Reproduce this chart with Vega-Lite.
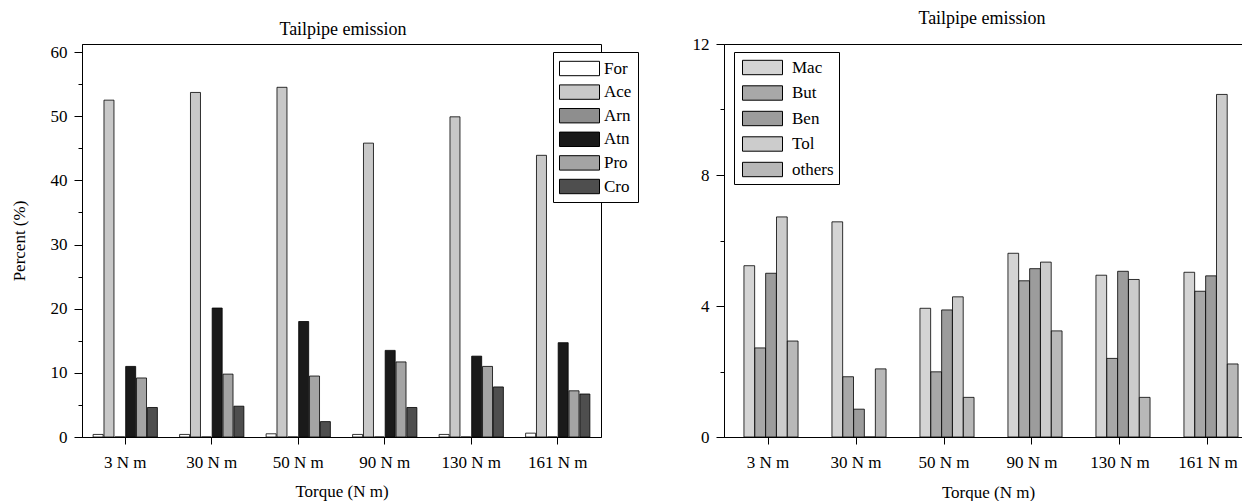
{
  "$schema": "https://vega.github.io/schema/vega-lite/v6.json",
  "padding": {"left": 9, "top": 9, "right": 0, "bottom": 0},
  "background": "white",
  "spacing": 52,
  "config": {
    "font": "Liberation Serif",
    "view": {"stroke": "black", "strokeWidth": 1},
    "scale": {"offsetBandPaddingInner": 0, "offsetBandPaddingOuter": 0},
    "axis": {
      "labelFont": "Liberation Serif",
      "titleFont": "Liberation Serif",
      "labelFontSize": 17,
      "titleFontSize": 17,
      "titleFontWeight": "normal",
      "labelColor": "black",
      "titleColor": "black",
      "domainColor": "black",
      "tickColor": "black",
      "grid": false
    },
    "legend": {
      "labelFont": "Liberation Serif",
      "labelFontSize": 17,
      "labelColor": "black",
      "strokeColor": "black",
      "fillColor": "white",
      "symbolStrokeColor": "black",
      "symbolStrokeWidth": 1,
      "symbolOpacity": 1,
      "symbolType": "M-2,-0.72H2V0.72H-2Z",
      "symbolSize": 400
    },
    "title": {"font": "Liberation Serif", "fontSize": 18, "fontWeight": "normal", "color": "black", "anchor": "middle"}
  },
  "datasets": {
    "left": [
      {"t": "3 N m", "s": "For", "v": 0.4}, {"t": "3 N m", "s": "Ace", "v": 52.5}, {"t": "3 N m", "s": "Arn", "v": 0}, {"t": "3 N m", "s": "Atn", "v": 11.0}, {"t": "3 N m", "s": "Pro", "v": 9.2}, {"t": "3 N m", "s": "Cro", "v": 4.6},
      {"t": "30 N m", "s": "For", "v": 0.4}, {"t": "30 N m", "s": "Ace", "v": 53.7}, {"t": "30 N m", "s": "Arn", "v": 0}, {"t": "30 N m", "s": "Atn", "v": 20.1}, {"t": "30 N m", "s": "Pro", "v": 9.8}, {"t": "30 N m", "s": "Cro", "v": 4.8},
      {"t": "50 N m", "s": "For", "v": 0.5}, {"t": "50 N m", "s": "Ace", "v": 54.5}, {"t": "50 N m", "s": "Arn", "v": 0}, {"t": "50 N m", "s": "Atn", "v": 18.0}, {"t": "50 N m", "s": "Pro", "v": 9.5}, {"t": "50 N m", "s": "Cro", "v": 2.4},
      {"t": "90 N m", "s": "For", "v": 0.4}, {"t": "90 N m", "s": "Ace", "v": 45.8}, {"t": "90 N m", "s": "Arn", "v": 0}, {"t": "90 N m", "s": "Atn", "v": 13.5}, {"t": "90 N m", "s": "Pro", "v": 11.7}, {"t": "90 N m", "s": "Cro", "v": 4.6},
      {"t": "130 N m", "s": "For", "v": 0.4}, {"t": "130 N m", "s": "Ace", "v": 49.9}, {"t": "130 N m", "s": "Arn", "v": 0}, {"t": "130 N m", "s": "Atn", "v": 12.6}, {"t": "130 N m", "s": "Pro", "v": 11.0}, {"t": "130 N m", "s": "Cro", "v": 7.8},
      {"t": "161 N m", "s": "For", "v": 0.6}, {"t": "161 N m", "s": "Ace", "v": 43.9}, {"t": "161 N m", "s": "Arn", "v": 0}, {"t": "161 N m", "s": "Atn", "v": 14.7}, {"t": "161 N m", "s": "Pro", "v": 7.2}, {"t": "161 N m", "s": "Cro", "v": 6.7}
    ],
    "right": [
      {"t": "3 N m", "s": "Mac", "v": 5.23}, {"t": "3 N m", "s": "But", "v": 2.72}, {"t": "3 N m", "s": "Ben", "v": 5.0}, {"t": "3 N m", "s": "Tol", "v": 6.72}, {"t": "3 N m", "s": "others", "v": 2.93},
      {"t": "30 N m", "s": "Mac", "v": 6.57}, {"t": "30 N m", "s": "But", "v": 1.84}, {"t": "30 N m", "s": "Ben", "v": 0.85}, {"t": "30 N m", "s": "Tol", "v": 0}, {"t": "30 N m", "s": "others", "v": 2.08},
      {"t": "50 N m", "s": "Mac", "v": 3.93}, {"t": "50 N m", "s": "But", "v": 1.99}, {"t": "50 N m", "s": "Ben", "v": 3.88}, {"t": "50 N m", "s": "Tol", "v": 4.28}, {"t": "50 N m", "s": "others", "v": 1.21},
      {"t": "90 N m", "s": "Mac", "v": 5.61}, {"t": "90 N m", "s": "But", "v": 4.77}, {"t": "90 N m", "s": "Ben", "v": 5.14}, {"t": "90 N m", "s": "Tol", "v": 5.34}, {"t": "90 N m", "s": "others", "v": 3.24},
      {"t": "130 N m", "s": "Mac", "v": 4.94}, {"t": "130 N m", "s": "But", "v": 2.40}, {"t": "130 N m", "s": "Ben", "v": 5.06}, {"t": "130 N m", "s": "Tol", "v": 4.81}, {"t": "130 N m", "s": "others", "v": 1.21},
      {"t": "161 N m", "s": "Mac", "v": 5.03}, {"t": "161 N m", "s": "But", "v": 4.45}, {"t": "161 N m", "s": "Ben", "v": 4.92}, {"t": "161 N m", "s": "Tol", "v": 10.46}, {"t": "161 N m", "s": "others", "v": 2.23}
    ]
  },
  "hconcat": [
    {
      "title": {"text": "Tailpipe emission", "offset": 4, "dx": 19},
      "vconcat": [
        {
          "width": 519,
          "height": 393,
          "data": {"name": "left"},
          "encoding": {
            "x": {
              "field": "t", "type": "nominal",
              "sort": ["3 N m", "30 N m", "50 N m", "90 N m", "130 N m", "161 N m"],
              "scale": {"paddingInner": 0.31, "paddingOuter": 0.155},
              "axis": {"labelAngle": 0, "title": "Torque (N m)", "tickSize": 7, "labelPadding": 10, "titlePadding": 13}
            },
            "xOffset": {
              "field": "s", "type": "nominal",
              "sort": ["For", "Ace", "Arn", "Atn", "Pro", "Cro"],
              "scale": {"paddingInner": 0, "paddingOuter": 0}
            }
          },
          "layer": [
            {
              "mark": {"type": "bar", "stroke": "black", "strokeWidth": 0.8, "width": 10},
              "encoding": {
                "y": {
                  "field": "v", "type": "quantitative",
                  "scale": {"domain": [0, 61.25], "nice": false},
                  "axis": {
                    "values": [0, 10, 20, 30, 40, 50, 60],
                    "tickSize": 8,
                    "labelPadding": 7,
                    "title": "Percent (%)",
                    "titlePadding": 22
                  }
                },
                "color": {
                  "field": "s", "type": "nominal",
                  "scale": {
                    "domain": ["For", "Ace", "Arn", "Atn", "Pro", "Cro"],
                    "range": ["#ffffff", "#c8c8c8", "#8e8e8e", "#1a1a1a", "#a4a4a4", "#4e4e4e"]
                  },
                  "legend": {
                    "title": null,
                    "orient": "none", "legendX": 471, "legendY": 8,
                    "padding": 6,
                    "rowPadding": 3.6,
                    "symbolOffset": 10,
                    "labelOffset": 14
                  }
                }
              }
            },
            {
              "mark": {"type": "bar", "opacity": 0},
              "encoding": {
                "y": {
                  "field": "v", "type": "quantitative",
                  "axis": {
                    "orient": "left",
                    "values": [5, 15, 25, 35, 45, 55],
                    "tickSize": 4,
                    "labels": false,
                    "domain": false,
                    "title": null
                  }
                }
              }
            }
          ],
          "resolve": {"axis": {"y": "independent"}}
        }
      ]
    },
    {
      "title": {"text": "Tailpipe emission", "offset": 7, "dx": -6},
      "width": 528,
      "height": 393,
      "data": {"name": "right"},
      "encoding": {
        "x": {
          "field": "t", "type": "nominal",
          "sort": ["3 N m", "30 N m", "50 N m", "90 N m", "130 N m", "161 N m"],
          "scale": {"paddingInner": 0.39, "paddingOuter": 0.195},
          "axis": {"labelAngle": 0, "title": "Torque (N m)", "tickSize": 7, "labelPadding": 10, "titlePadding": 14}
        },
        "xOffset": {
          "field": "s", "type": "nominal",
          "sort": ["Mac", "But", "Ben", "Tol", "others"],
          "scale": {"paddingInner": 0, "paddingOuter": 0}
        }
      },
      "layer": [
        {
          "mark": {"type": "bar", "stroke": "black", "strokeWidth": 0.8, "width": 10.7},
          "encoding": {
            "y": {
              "field": "v", "type": "quantitative",
              "scale": {"domain": [0, 12], "nice": false},
              "axis": {
                "values": [0, 4, 8, 12],
                "tickSize": 8,
                "labelPadding": 7,
                "title": null
              }
            },
            "color": {
              "field": "s", "type": "nominal",
              "scale": {
                "domain": ["Mac", "But", "Ben", "Tol", "others"],
                "range": ["#d4d4d4", "#a8a8a8", "#9c9c9c", "#cccccc", "#b8b8b8"]
              },
              "legend": {
                "title": null,
                "orient": "none", "legendX": 10, "legendY": 8,
                "padding": 5,
                "rowPadding": 5.5,
                "symbolOffset": 13,
                "labelOffset": 19
              }
            }
          }
        },
        {
          "mark": {"type": "bar", "opacity": 0},
          "encoding": {
            "y": {
              "field": "v", "type": "quantitative",
              "axis": {
                "orient": "left",
                "values": [2, 6, 10],
                "tickSize": 4,
                "labels": false,
                "domain": false,
                "title": null
              }
            }
          }
        }
      ],
      "resolve": {"axis": {"y": "independent"}}
    }
  ],
  "resolve": {"scale": {"color": "independent"}}
}
